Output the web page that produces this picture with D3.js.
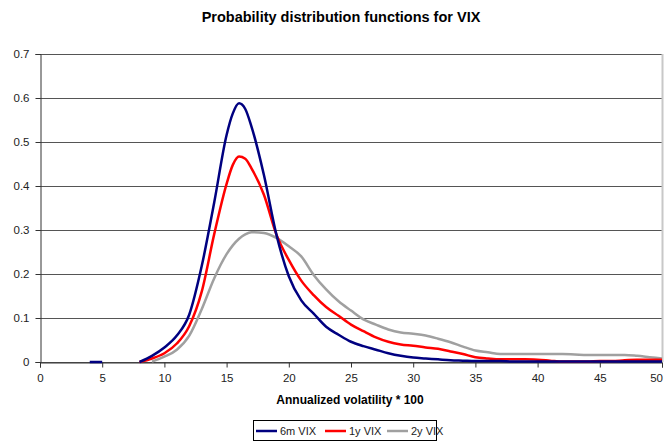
<!DOCTYPE html>
<html><head><meta charset="utf-8">
<script src="https://cdn.jsdelivr.net/npm/d3@7"></script>
<style>body{margin:0;background:#fff}svg{display:block}</style>
</head><body>
<svg id="c" width="664" height="441"></svg>
<script>
const xValues = [4,5,6,7,8,9,10,11,12,13,14,15,15.5,16,16.5,17,18,19,20,21,22,23,24,25,26,27,28,29,30,31,32,33,34,35,36,37,38,39,40,41,42,43,44,45,46,47,48,49,50];
const vix6m = [0,0,null,null,0,0.014,0.033,0.06,0.108,0.218,0.362,0.516,0.565,0.588,0.575,0.535,0.425,0.29,0.195,0.14,0.11,0.08,0.062,0.046,0.036,0.028,0.02,0.014,0.01,0.008,0.006,0.004,0.003,0.002,0.002,0.002,0.001,0.001,0.001,0.001,0.001,0.001,0.001,0.001,0.001,0.001,0.001,0.001,0.001];
const vix1y = [null,null,null,null,0,0.008,0.02,0.042,0.082,0.16,0.29,0.405,0.448,0.467,0.462,0.44,0.38,0.29,0.232,0.185,0.152,0.125,0.105,0.085,0.07,0.056,0.046,0.04,0.037,0.033,0.03,0.024,0.018,0.011,0.008,0.006,0.006,0.006,0.005,0.003,0.001,0.001,0.001,0.002,0.002,0.004,0.005,0.005,0.005];
const vix2y = [null,null,null,null,null,0.001,0.012,0.028,0.06,0.12,0.19,0.245,0.265,0.28,0.29,0.295,0.293,0.282,0.263,0.24,0.198,0.165,0.138,0.117,0.097,0.085,0.074,0.067,0.064,0.06,0.053,0.045,0.035,0.026,0.022,0.018,0.018,0.018,0.018,0.018,0.018,0.017,0.016,0.016,0.016,0.016,0.014,0.011,0.008];
const seriesNames = ["6m VIX","1y VIX","2y VIX"];
const seriesColors = ["#000080","#ff0000","#a0a0a0"];
const xTicks = [0,5,10,15,20,25,30,35,40,45,50];
const yTicks = [0,0.1,0.2,0.3,0.4,0.5,0.6,0.7];
const titleText = "Probability distribution functions for VIX";
const xTitle = "Annualized volatility * 100";

const svg = d3.select("#c");
const font = "'Liberation Sans', Arial, sans-serif";
const x = d3.scaleLinear().domain([0,50]).range([40,662]);
const y = d3.scaleLinear().domain([0,0.7]).range([362,54]);

// gridlines
svg.append("g").selectAll("line").data(yTicks).join("line")
  .attr("x1",40).attr("x2",662)
  .attr("y1",d=>Math.round(y(d))+0.5).attr("y2",d=>Math.round(y(d))+0.5)
  .attr("stroke","#555").attr("stroke-width",1);
// right border
svg.append("line").attr("x1",662.5).attr("x2",662.5).attr("y1",y(0.7)).attr("y2",y(0))
  .attr("stroke","#c8c8c8").attr("stroke-width",2);

// axes
const gx = svg.append("g").attr("transform","translate(0,362.5)")
  .call(d3.axisBottom(x).tickValues(xTicks).tickSize(5).tickPadding(6).tickFormat(d3.format("d")));
const gy = svg.append("g").attr("transform","translate(40.5,0)")
  .call(d3.axisLeft(y).tickValues(yTicks).tickSize(5).tickPadding(6).tickFormat(d=>d===0?"0":d3.format(".1f")(d)));
[gx,gy].forEach(g=>{
  g.select(".domain").attr("stroke","#333");
  g.selectAll(".tick line").attr("stroke","#333");
  g.selectAll("text").attr("font-family",font).attr("font-size",11.5).attr("fill","#222");
});
// keep the last x label inside the window
gx.selectAll(".tick text").filter(d=>d===50).attr("text-anchor","end").attr("dx",0.5);

// lines
const allSeries = [vix6m, vix1y, vix2y];
const line = d3.line().defined(d=>d[1]!==null).x(d=>x(d[0])).y(d=>y(d[1])).curve(d3.curveMonotoneX);
[2,1,0].forEach(i=>{
  const pts = xValues.map((xv,j)=>[xv, allSeries[i][j]]);
  svg.append("path").attr("d",line(pts)).attr("fill","none")
    .attr("stroke",seriesColors[i]).attr("stroke-width",2.5).attr("stroke-linejoin","round");
});

// title
svg.append("text").attr("x",341).attr("y",22).attr("text-anchor","middle")
  .attr("font-family",font).attr("font-size",14.5).attr("font-weight","bold").text(titleText);
svg.append("text").attr("x",350).attr("y",404).attr("text-anchor","middle")
  .attr("font-family",font).attr("font-size",12).attr("font-weight","bold").text(xTitle);

// legend
const lg = svg.append("g");
lg.append("rect").attr("x",253.5).attr("y",420.5).attr("width",183).attr("height",20)
  .attr("fill","#fff").attr("stroke","#000");
const legX = [256,325,387];
seriesNames.forEach((n,i)=>{
  lg.append("line").attr("x1",legX[i]).attr("x2",legX[i]+21).attr("y1",431).attr("y2",431)
    .attr("stroke",seriesColors[i]).attr("stroke-width",2.5);
  lg.append("text").attr("x",legX[i]+24).attr("y",435).attr("font-family",font).attr("font-size",11)
    .attr("fill","#222").text(n);
});
</script>
</body></html>
